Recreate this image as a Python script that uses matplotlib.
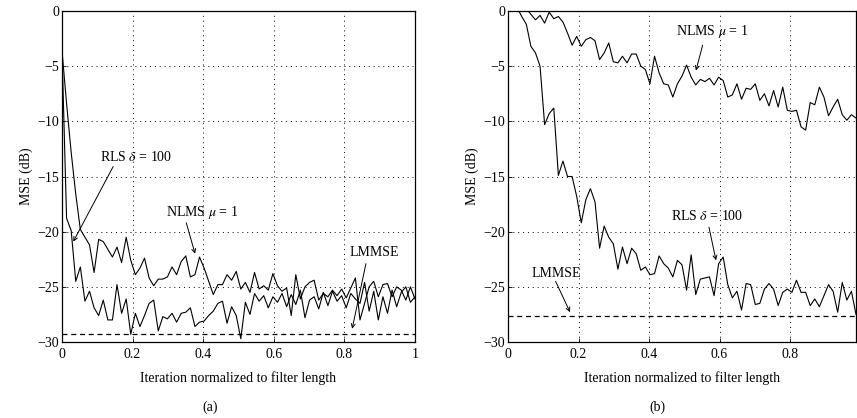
import numpy as np
import matplotlib
matplotlib.use("Agg")
import matplotlib.pyplot as plt

plt.rcParams["font.family"] = ["Liberation Serif", "DejaVu Serif"]
plt.rcParams["mathtext.fontset"] = "stix"
plt.rcParams["axes.unicode_minus"] = True

# iteration index normalised to filter length (77 taps)
x_a = np.arange(78) / 77
x_b = np.arange(77) / 77

# (a) MSE curves in dB
nlms_a = [
    -3.6, -8.4, -12.8, -16.6, -19.8, -20.5, -21.2, -23.7, -20.7, -20.9,
    -21.6, -22.3, -21.4, -22.8, -20.5, -22.6, -23.9, -23.3, -22.4, -24.2,
    -24.9, -24.3, -24.3, -24.1, -23.2, -23.9, -22.7, -22.2, -24.1, -23.9,
    -22.3, -23.3, -24.5, -25.7, -24.8, -24.8, -23.9, -24.4, -23.6, -25.2,
    -24.6, -25.5, -23.7, -25.2, -24.9, -25.3, -23.8, -24.9, -25.4, -25.1,
    -27.6, -23.9, -26.1, -25.0, -24.6, -24.4, -26.2, -25.6, -25.9, -25.3,
    -25.8, -25.2, -26.0, -25.1, -24.2, -28.0, -26.5, -25.0, -24.5, -25.9,
    -24.8, -24.7, -25.9, -25.0, -25.3, -26.2, -25.0, -26.1,
]
rls_a = [
    -3.6, -18.8, -19.9, -24.5, -23.2, -26.3, -25.4, -26.9, -27.6, -26.2,
    -28.0, -28.0, -24.8, -27.4, -26.1, -29.3, -27.4, -28.6, -27.6, -26.5,
    -26.2, -29.0, -27.7, -27.9, -27.4, -28.2, -27.4, -27.3, -26.9, -28.6,
    -28.2, -28.1, -27.6, -27.2, -26.5, -26.3, -28.3, -26.8, -27.6, -29.7,
    -26.4, -27.5, -25.6, -26.3, -25.8, -26.9, -25.9, -26.4, -25.6, -26.8,
    -25.7, -26.6, -25.3, -27.8, -26.2, -25.9, -27.0, -25.5, -26.7, -25.4,
    -26.3, -25.8, -26.9, -25.6, -26.1, -26.5, -24.6, -27.2, -25.4, -28.0,
    -25.9, -27.4, -25.3, -26.8, -25.5, -25.0, -26.4, -25.9,
]
lmmse_a = -29.3

# (b) MSE curves in dB (values above 0 dB are clipped by the axis)
nlms_b = [
    3.0, 2.0, 1.2, 0.6, 0.2, -0.3, -0.8, -0.4, -1.1, -0.1,
    -0.7, -0.5, -1.0, -2.0, -3.1, -2.3, -3.2, -2.6, -2.4, -2.7,
    -4.4, -3.8, -2.9, -4.6, -4.7, -4.1, -4.7, -3.9, -3.9, -5.0,
    -5.3, -6.6, -4.1, -5.6, -6.6, -6.7, -7.8, -6.6, -5.9, -4.9,
    -6.0, -6.7, -6.2, -6.4, -6.1, -6.7, -6.0, -6.3, -7.8, -7.6,
    -6.6, -8.0, -7.0, -7.1, -6.6, -8.1, -7.5, -8.6, -7.2, -8.7,
    -6.9, -9.0, -9.1, -9.0, -10.5, -10.8, -8.3, -8.5, -6.9, -7.8,
    -9.5, -8.7, -8.0, -9.4, -9.9, -9.4, -9.7,
]
rls_b = [
    2.5, 1.5, 0.3, -0.5, -1.2, -3.2, -3.8, -5.0, -10.3, -9.3,
    -8.8, -14.9, -13.6, -15.0, -15.0, -16.8, -19.2, -17.1, -16.1, -17.3,
    -21.5, -19.5, -20.5, -21.1, -23.4, -21.4, -22.9, -21.5, -22.0, -23.5,
    -23.2, -23.9, -23.8, -22.2, -22.9, -23.3, -24.1, -22.6, -23.0, -25.3,
    -22.1, -25.7, -24.3, -24.2, -24.1, -25.8, -22.9, -22.3, -24.8, -26.0,
    -25.4, -27.1, -24.7, -24.8, -26.6, -26.5, -25.2, -24.7, -25.2, -26.7,
    -25.5, -25.2, -25.5, -24.4, -25.5, -25.5, -26.7, -26.1, -26.8, -25.8,
    -24.8, -25.4, -27.3, -24.6, -26.2, -25.4, -27.5,
]
lmmse_b = -27.6

W, H = 857, 418
fig = plt.figure(figsize=(W / 100, H / 100), dpi=100)
ax1 = fig.add_axes([62 / W, 1 - 342 / H, 353 / W, 331 / H])
ax2 = fig.add_axes([508 / W, 1 - 342 / H, 348 / W, 331 / H])

fs = 10
arrow = dict(arrowstyle="->", color="black", lw=0.7, shrinkA=0, shrinkB=0,
             mutation_scale=7)


def style(ax, x_max, xticks):
    ax.set_xlim(0, x_max)
    ax.set_ylim(-30, 0)
    ax.set_xticks(xticks)
    ax.set_xticklabels(["0" if t == 0 else ("1" if t == 1 else f"{t:.1f}")
                        for t in xticks])
    ax.set_yticks(np.arange(-30, 1, 5))
    ax.grid(True, color="black", linestyle=(0, (1, 4)), linewidth=0.7)
    ax.tick_params(direction="in", length=3, width=0.6, labelsize=fs,
                   colors="black", pad=2)
    ax.tick_params(axis="x", pad=4)
    for s in ax.spines.values():
        s.set_linewidth(0.9)
    ax.set_ylabel("MSE (dB)", fontsize=fs, labelpad=3)
    ax.set_xlabel("Iteration normalized to filter length", fontsize=fs,
                  labelpad=8)


def label(ax, text, tip, tail, pos):
    ax.annotate("", xy=tip, xytext=tail, arrowprops=arrow)
    ax.text(pos[0], pos[1], text, fontsize=fs, ha="center", va="center")


# panel (a)
ax1.plot(x_a, nlms_a, color="black", lw=0.8)
ax1.plot(x_a, rls_a, color="black", lw=0.8)
ax1.axhline(lmmse_a, color="black", lw=0.9, linestyle=(0, (4, 3)))
style(ax1, 1.0, [0, 0.2, 0.4, 0.6, 0.8, 1.0])
label(ax1, r"RLS $\delta$ = 100", (0.032, -20.9), (0.145, -14.1), (0.21, -13.2))
label(ax1, r"NLMS $\mu$ = 1", (0.377, -22.0), (0.352, -19.2), (0.396, -18.3))
label(ax1, "LMMSE", (0.822, -28.8), (0.861, -22.9), (0.885, -21.9))

# panel (b)
ax2.plot(x_b, nlms_b, color="black", lw=0.8)
ax2.plot(x_b, rls_b, color="black", lw=0.8)
ax2.axhline(lmmse_b, color="black", lw=0.9, linestyle=(0, (4, 3)))
style(ax2, x_b[-1], [0, 0.2, 0.4, 0.6, 0.8])
label(ax2, r"NLMS $\mu$ = 1", (0.533, -5.4), (0.552, -3.1), (0.58, -1.9))
label(ax2, r"RLS $\delta$ = 100", (0.59, -22.6), (0.57, -19.6), (0.565, -18.6))
label(ax2, "LMMSE", (0.176, -27.3), (0.135, -24.5), (0.136, -23.8))

fig.text(210 / W, 1 - 407 / H, "(a)", fontsize=fs, ha="center", va="center")
fig.text(657 / W, 1 - 407 / H, "(b)", fontsize=fs, ha="center", va="center")

fig.savefig("out.png", dpi=100)
